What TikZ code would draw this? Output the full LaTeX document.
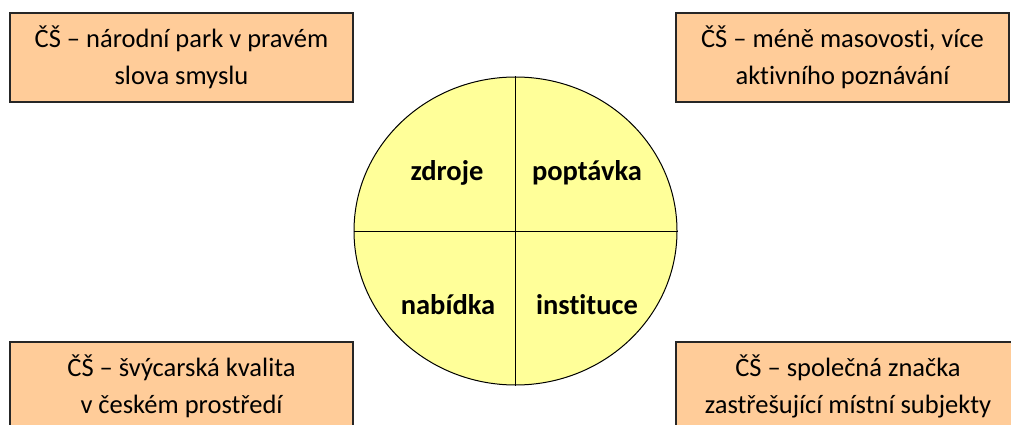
\documentclass[tikz,border=0pt]{standalone}
\usepackage{fontspec}
\setmainfont{Carlito}[Ligatures={NoCommon,NoRequired}]
\usetikzlibrary{shapes.geometric}
\definecolor{peach}{HTML}{FFCC99}
\definecolor{paleyellow}{HTML}{FFFF99}
\tikzset{
	every path/.style={line width=1pt},
	align=center,
	note/.style={
		draw=black!85,
		line width=1.5pt,
		fill=peach,
		rectangle,
		minimum height=89pt,
		inner sep=0pt,
		font=\fontsize{26.5}{36.5}\selectfont,
		execute at begin node={\rule{0pt}{30pt}},
	},
	ring/.style={
		draw,
		ellipse,
		fill=paleyellow,
		minimum width=323pt,
		minimum height=308pt,
		inner sep=0pt,
	},
	quarter/.style={
		font=\fontsize{28.5}{32}\selectfont\bfseries,
	},
}

\begin{document}
\begin{tikzpicture}[x=1pt,y=-1pt]
	\useasboundingbox (0,0) rectangle (1011,425);

	\node[note,minimum width=343pt] (park)  at (181.5,57.5) {ČŠ – národní park v pravém\\slova smyslu};
	\node[note,minimum width=333pt] (mass)  at (842.5,57.5) {ČŠ – méně masovosti, více\\aktivního poznávání};
	\node[note,minimum width=343pt] (swiss) at (181.5,386.5) {ČŠ – švýcarská kvalita\\v českém prostředí};
	\node[note,minimum width=344pt] (brand) at (848,386.5) {ČŠ – společná značka\\zastřešující místní subjekty};

	\node[ring] (ring) at (515.5,231) {};
	\draw (ring.north) -- (ring.south);
	\draw (ring.west) -- (ring.east);

	\node[quarter] (zdroje)    at (447,173) {zdroje};
	\node[quarter] (poptavka)  at (587,173) {poptávka};
	\node[quarter] (nabidka)   at (448,305) {nabídka};
	\node[quarter] (instituce) at (587,305) {instituce};

\end{tikzpicture}
\end{document}
